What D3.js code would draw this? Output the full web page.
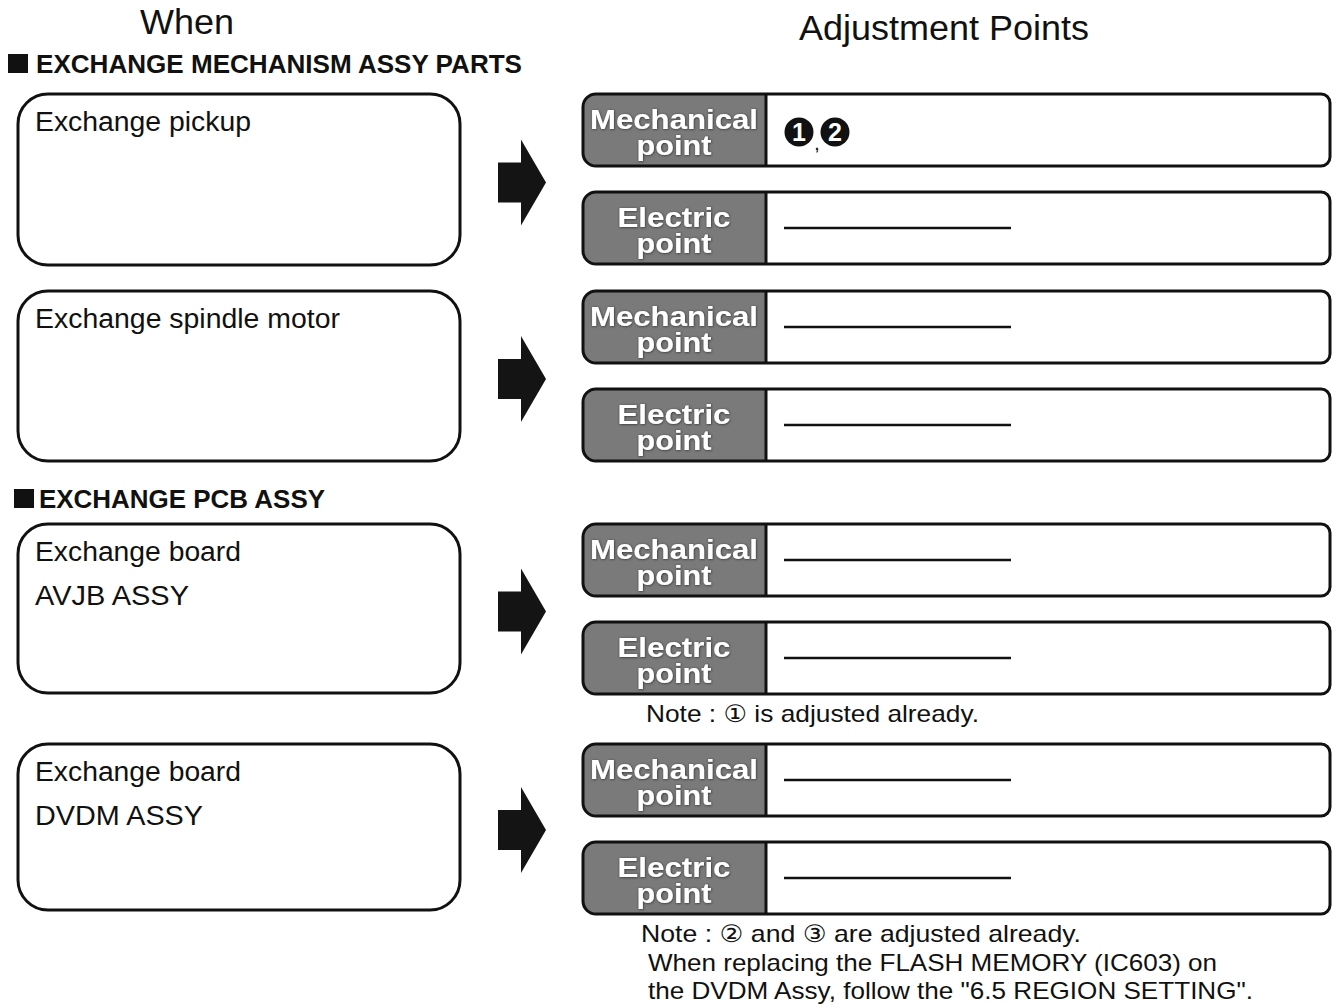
<!DOCTYPE html>
<html>
<head>
<meta charset="utf-8">
<script src="https://cdn.jsdelivr.net/npm/d3@7"></script>
<style>
  html, body { margin: 0; padding: 0; background: #fff; }
  svg { display: block; }
  text { font-family: "Liberation Sans", Arial, "DejaVu Sans", sans-serif; }
</style>
</head>
<body>
<svg id="chart" width="1337" height="1005"></svg>
<script>
// ---------- data ----------
const columnTitles = ["When", "Adjustment Points"];
const sectionTitles = ["EXCHANGE MECHANISM ASSY PARTS", "EXCHANGE PCB ASSY"];
const whenItems = [
  ["Exchange pickup"],
  ["Exchange spindle motor"],
  ["Exchange board", "AVJB ASSY"],
  ["Exchange board", "DVDM ASSY"]
];
const pointKinds = [["Mechanical", "point"], ["Electric", "point"]];
const mechanicalPoints = [["1", "2"], [], [], []];
const electricPoints = [[], [], [], []];
const notes = [
  [],
  [],
  ["Note : \u2460 is adjusted already."],
  ["Note : \u2461 and \u2462 are adjusted already.",
   " When replacing the FLASH MEMORY (IC603) on",
   " the DVDM Assy, follow the \"6.5 REGION SETTING\"."]
];

// ---------- layout ----------
const itemTop = [94, 291, 524, 744];
const leftH = [171, 170, 169, 166];
const sectionY = [73, 508];
const sectionX = [8, 14];
const sectionTextX = [36, 39];
const sectionW = [486, 286];
const whenW = { "Exchange pickup": 216, "Exchange spindle motor": 305, "Exchange board": 206, "AVJB ASSY": 154, "DVDM ASSY": 168 };
const noteX = [[], [], [646], [641, 648, 648]];
const noteW = [[], [], [333], [440, 569, 605]];
const noteY0 = [0, 0, 722, 942];

const svg = d3.select("#chart");
const defs = svg.append("defs");
const f = defs.append("filter").attr("id", "shadow").attr("x", "-10%").attr("y", "-20%").attr("width", "120%").attr("height", "140%");
f.append("feDropShadow").attr("dx", 0.5).attr("dy", 0.5).attr("stdDeviation", 1.2).attr("flood-color", "#222").attr("flood-opacity", 0.9);

// column titles
svg.append("text").attr("x", 187).attr("y", 34).attr("text-anchor", "middle")
  .attr("font-size", 35).attr("textLength", 94).attr("lengthAdjust", "spacingAndGlyphs").attr("fill", "#111").text(columnTitles[0]);
svg.append("text").attr("x", 944).attr("y", 40).attr("text-anchor", "middle")
  .attr("font-size", 35).attr("textLength", 290).attr("lengthAdjust", "spacingAndGlyphs").attr("fill", "#111").text(columnTitles[1]);

// section headers
sectionTitles.forEach((t, i) => {
  svg.append("rect").attr("x", sectionX[i]).attr("y", sectionY[i] - 19).attr("width", 20).attr("height", 19).attr("fill", "#111");
  svg.append("text").attr("x", sectionTextX[i]).attr("y", sectionY[i]).attr("font-size", 25).attr("font-weight", "bold")
    .attr("textLength", sectionW[i]).attr("lengthAdjust", "spacingAndGlyphs").attr("fill", "#111").text(t);
});

function roundPath(x, y, w, h, rl, rr) {
  const p = d3.path();
  p.moveTo(x + rl, y);
  p.lineTo(x + w - rr, y);
  if (rr > 0) p.arcTo(x + w, y, x + w, y + rr, rr); else p.lineTo(x + w, y);
  p.lineTo(x + w, y + h - rr);
  if (rr > 0) p.arcTo(x + w, y + h, x + w - rr, y + h, rr); else p.lineTo(x + w, y + h);
  p.lineTo(x + rl, y + h);
  p.arcTo(x, y + h, x, y + h - rl, rl);
  p.lineTo(x, y + rl);
  p.arcTo(x, y, x + rl, y, rl);
  p.closePath();
  return p.toString();
}

const rowY = d3.scaleLinear().domain([0, 1]).range([0, 98]); // offset between mechanical and electric rows

whenItems.forEach((lines, i) => {
  const top = itemTop[i];
  // left box
  svg.append("rect").attr("x", 18).attr("y", top).attr("width", 442).attr("height", leftH[i])
    .attr("rx", 30).attr("ry", 30).attr("fill", "#fff").attr("stroke", "#111").attr("stroke-width", 3);
  lines.forEach((l, j) => {
    svg.append("text").attr("x", 35).attr("y", top + 37 + j * 44).attr("font-size", 27)
      .attr("textLength", whenW[l]).attr("lengthAdjust", "spacingAndGlyphs").attr("fill", "#111").text(l);
  });
  // arrow
  const cy = top + leftH[i] / 2 + 3;
  const a = d3.path();
  a.moveTo(498, cy - 20); a.lineTo(521, cy - 20); a.lineTo(521, cy - 43); a.lineTo(546, cy);
  a.lineTo(521, cy + 43); a.lineTo(521, cy + 20); a.lineTo(498, cy + 20); a.closePath();
  svg.append("path").attr("d", a.toString()).attr("fill", "#141414");

  // right boxes
  pointKinds.forEach((kind, k) => {
    const y = top + rowY(k);
    const h = 72;
    svg.append("path").attr("d", roundPath(583, y, 747, h, 13, 9)).attr("fill", "#fff");
    // grey label area
    svg.append("path").attr("d", roundPath(583, y, 183, h, 13, 0)).attr("fill", "#7a7a7a");
    svg.append("line").attr("x1", 766).attr("x2", 766).attr("y1", y).attr("y2", y + h).attr("stroke", "#111").attr("stroke-width", 3);
    svg.append("path").attr("d", roundPath(583, y, 747, h, 13, 9)).attr("fill", "none").attr("stroke", "#111").attr("stroke-width", 3);
    const kw = [[168, 75], [113, 75]][k];
    kind.forEach((t, j) => {
      svg.append("text").attr("x", 674).attr("y", y + 35 + j * 26).attr("text-anchor", "middle")
        .attr("font-size", 27).attr("font-weight", "bold").attr("fill", "#fff")
        .attr("textLength", kw[j]).attr("lengthAdjust", "spacingAndGlyphs")
        .attr("filter", "url(#shadow)").text(t);
    });
    const pts = k === 0 ? mechanicalPoints[i] : electricPoints[i];
    if (pts.length === 0) {
      svg.append("line").attr("x1", 784).attr("x2", 1011).attr("y1", y + h / 2).attr("y2", y + h / 2)
        .attr("stroke", "#111").attr("stroke-width", 2.5);
    } else {
      pts.forEach((p, m) => {
        const cx = 799 + m * 36;
        svg.append("circle").attr("cx", cx).attr("cy", y + 38).attr("r", 14.5).attr("fill", "#111");
        svg.append("text").attr("x", cx).attr("y", y + 47).attr("text-anchor", "middle")
          .attr("font-size", 25).attr("font-weight", "bold").attr("fill", "#fff").text(p);
        if (m < pts.length - 1) {
          svg.append("text").attr("x", cx + 18).attr("y", y + 56).attr("text-anchor", "middle")
            .attr("font-size", 14).attr("font-weight", "bold").attr("fill", "#111").text(",");
        }
      });
    }
  });

  // notes
  notes[i].forEach((n, j) => {
    svg.append("text").attr("x", noteX[i][j]).attr("y", noteY0[i] + j * 28.5).attr("font-size", 24)
      .attr("textLength", noteW[i][j]).attr("lengthAdjust", "spacingAndGlyphs").attr("fill", "#111")
      .text(n.trim());
  });
});
</script>
</body>
</html>
